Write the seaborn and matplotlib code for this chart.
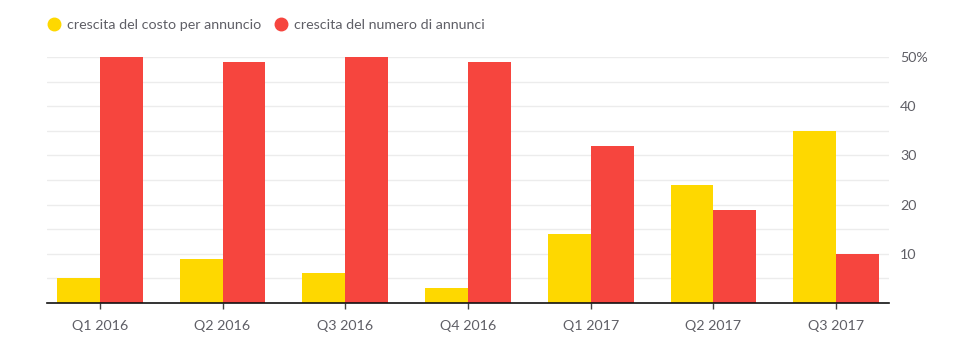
import matplotlib
matplotlib.use("Agg")
import matplotlib.pyplot as plt
from matplotlib.lines import Line2D
import seaborn as sns
import pandas as pd

quarters = ["Q1 2016", "Q2 2016", "Q3 2016", "Q4 2016", "Q1 2017", "Q2 2017", "Q3 2017"]
costo_per_annuncio = [5, 9, 6, 3, 14, 24, 35]
numero_annunci = [50, 49, 50, 49, 32, 19, 10]
series_names = ["crescita del costo per annuncio", "crescita del numero di annunci"]
y_ticks = [10, 20, 30, 40, 50]
y_tick_labels = ["10", "20", "30", "40", "50%"]

colors = ["#FED800", "#F6453E"]
text_color = "#5f5f66"

df = pd.DataFrame({
    "quarter": quarters * 2,
    "value": costo_per_annuncio + numero_annunci,
    "series": [series_names[0]] * len(quarters) + [series_names[1]] * len(quarters),
})

sns.set_theme(style="white")
plt.rcParams["font.family"] = ["Lato", "DejaVu Sans"]

fig = plt.figure(figsize=(9.58, 3.46), dpi=100)
ax = fig.add_axes([47 / 958, 1 - 303 / 346, (889 - 47) / 958, (303 - 57) / 346])

sns.barplot(data=df, x="quarter", y="value", hue="series", order=quarters,
            hue_order=series_names, palette=colors, width=0.7, gap=0,
            saturation=1, legend=False, ax=ax, linewidth=0)

ax.set_xlim(-0.43, len(quarters) - 1 + 0.43)
ax.set_ylim(0, 50)

# light horizontal grid every 5 points
for v in range(5, 51, 5):
    ax.axhline(v, color="#ececec", linewidth=1, zorder=0)

ax.yaxis.tick_right()
ax.set_yticks(y_ticks)
ax.set_yticklabels(y_tick_labels)
ax.tick_params(axis="y", length=0, pad=8, labelsize=10.3, labelcolor=text_color)
ax.tick_params(axis="x", length=4, width=1, color="#444444", pad=8,
               labelsize=10.3, labelcolor=text_color, bottom=True)
ax.set_xlabel("")
ax.set_ylabel("")

for side in ["top", "left", "right"]:
    ax.spines[side].set_visible(False)
ax.spines["bottom"].set_color("#111111")
ax.spines["bottom"].set_linewidth(1.2)
ax.set_axisbelow(True)

handles = [Line2D([0], [0], marker="o", linestyle="", markersize=9,
                  markerfacecolor=c, markeredgecolor=c) for c in colors]
fig.legend(handles, series_names, loc="center left", bbox_to_anchor=(48 / 958, 1 - 25 / 346),
           ncol=2, frameon=False, fontsize=10.3, labelcolor=text_color,
           borderpad=0, borderaxespad=0,
           handletextpad=0.5, columnspacing=1.0, handlelength=0.8)

fig.savefig("out.png", dpi=100)
